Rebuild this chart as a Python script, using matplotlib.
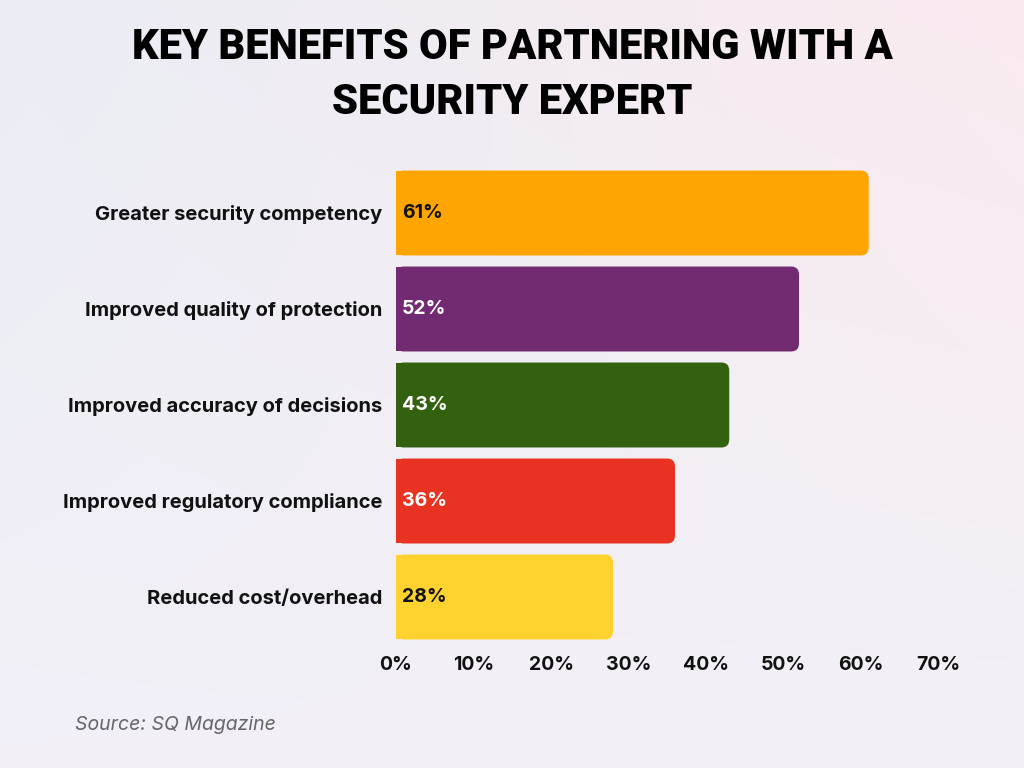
import numpy as np
import matplotlib.pyplot as plt
from matplotlib.patches import FancyBboxPatch, Rectangle

categories = ["Greater security competency", "Improved quality of protection",
              "Improved accuracy of decisions", "Improved regulatory compliance",
              "Reduced cost/overhead"]
values = [61, 52, 43, 36, 28]
colors = ["#FFA502", "#722A72", "#336110", "#E83323", "#FFD22F"]
label_colors = ["#111111", "white", "white", "white", "#111111"]
ticks = [0, 10, 20, 30, 40, 50, 60, 70]

fig = plt.figure(figsize=(10.24, 7.68), dpi=100)

# soft gradient background
bg = fig.add_axes([0, 0, 1, 1], zorder=-10)
gx = np.linspace(0, 1, 256)
gy = np.linspace(0, 1, 256)
X, Y = np.meshgrid(gx, gy)
c1 = np.array([0.92, 0.93, 0.96])   # left: cool grey-blue
c2 = np.array([0.98, 0.92, 0.94])   # top right: pink
c3 = np.array([0.95, 0.94, 0.97])   # bottom: lavender
t = X[..., None]
s = Y[..., None]
img = (c1 * (1 - t) + c2 * t) * (1 - s) + c3 * s
bg.imshow(img, aspect="auto", extent=[0, 1, 0, 1])
bg.axis("off")

ax = fig.add_axes([396 / 1024, 123 / 768, 542.5 / 1024, 480 / 768])
ax.set_facecolor("none")
y = np.arange(len(categories))
bars = ax.barh(y, values, height=0.885, color=colors)
ax.set_xlim(0, 70)
ax.set_ylim(len(categories) - 0.5, -0.5)

# rounded right corners
for b, c in zip(bars, colors):
    b.set_visible(False)
    x0, y0, w, h = b.get_x(), b.get_y(), b.get_width(), b.get_height()
    r = 1.0
    ax.add_patch(FancyBboxPatch((x0, y0), w, h, boxstyle=f"round,pad=0,rounding_size={r}",
                                mutation_aspect=0.085, facecolor=c, edgecolor="none"))
    ax.add_patch(Rectangle((x0, y0), w / 2, h, facecolor=c, edgecolor="none"))

for yi, v, lc in zip(y, values, label_colors):
    ax.text(0.75, yi, f"{v}%", va="center", ha="left", fontsize=14,
            fontweight="bold", color=lc, family="Inter")

ax.set_yticks(y)
ax.set_yticklabels(categories, fontsize=14.5, fontweight="bold", family="Inter")
ax.set_xticks(ticks)
ax.set_xticklabels([f"{t}%" for t in ticks], fontsize=14, fontweight="bold", family="Inter")
ax.tick_params(axis="both", length=0, colors="#111111")
ax.tick_params(axis="y", pad=10)
ax.tick_params(axis="x", pad=8)
for sp in ax.spines.values():
    sp.set_visible(False)

fig.text(0.5, 0.938, "KEY BENEFITS OF PARTNERING WITH A", ha="center", va="center",
         fontsize=30, fontweight="black", family="Roboto", color="black")
fig.text(0.5, 0.866, "SECURITY EXPERT", ha="center", va="center",
         fontsize=30, fontweight="black", family="Roboto", color="black")

fig.text(75 / 1024, 1 - 725 / 768, "Source: SQ Magazine", ha="left", va="center",
         fontsize=14, style="italic", color="#666666", family="Inter")

fig.savefig("out.png", dpi=100)
